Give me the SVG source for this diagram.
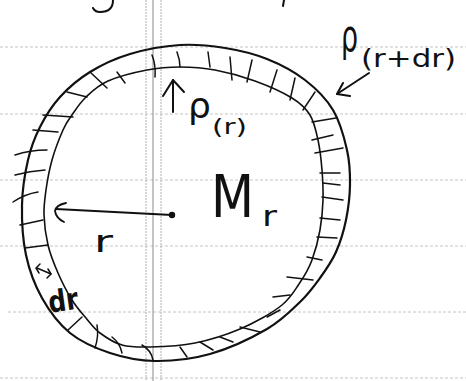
<svg xmlns="http://www.w3.org/2000/svg" width="466" height="381" viewBox="0 0 466 381">
<style>
.rule{stroke:#c4c4c4;stroke-width:1;stroke-dasharray:3 2;fill:none}
.vrule{stroke:#b0b0b0;stroke-width:1;stroke-dasharray:2 1;fill:none}
.vmid{stroke:#8a8a8a;stroke-width:1;fill:none}
.ink{stroke:#111;fill:none;stroke-linecap:round;stroke-linejoin:round}
.outer{stroke-width:2.2}
.inner{stroke-width:1.6}
.tick{stroke-width:1.5}
.hand{font-family:"DejaVu Sans","Liberation Sans",sans-serif;fill:#111}
</style>
<rect width="466" height="381" fill="#fff"/>
<g id="paper">
<line class="rule" x1="0" y1="47" x2="466" y2="47"/>
<line class="rule" x1="0" y1="114" x2="466" y2="114"/>
<line class="rule" x1="0" y1="180" x2="466" y2="180"/>
<line class="rule" x1="0" y1="246" x2="466" y2="246"/>
<line class="rule" x1="8" y1="312" x2="466" y2="312"/>
<line class="rule" x1="0" y1="378" x2="466" y2="378"/>
<line class="vrule" x1="146" y1="0" x2="146" y2="381"/>
<line class="vmid" x1="153" y1="0" x2="153" y2="381"/>
<line class="vrule" x1="161" y1="0" x2="161" y2="381"/>
</g>
<g id="scraps" class="ink" stroke-width="2">
<path d="M113,0 C113,8 108,12 100,12 C96,12 94,10 93,8"/>
<path d="M284,0 L283,6"/>
</g>
<g id="shell">
<path class="ink outer" d="M180,45 C195.8,44 210.5,45.7 225,48 C239.5,50.3 253.7,53.7 267,59 C280.3,64.3 294,71.5 305,80 C316,88.5 326,98.3 333,110 C340,121.7 344.2,137.5 347,150 C349.8,162.5 350.2,173.3 350,185 C349.8,196.7 348.3,208.8 346,220 C343.7,231.2 340.3,242.3 336,252 C331.7,261.7 326,269.7 320,278 C314,286.3 308.8,293.5 300,302 C291.2,310.5 282,320.3 267,329 C252,337.7 228.7,348.7 210,354 C191.3,359.3 171.7,361.2 155,361 C138.3,360.8 124.2,357.7 110,353 C95.8,348.3 81.3,342.2 70,333 C58.7,323.8 49.3,311 42,298 C34.7,285 29.3,270.5 26,255 C22.7,239.5 21.7,220.8 22,205 C22.3,189.2 25,173 28,160 C31,147 34.7,137.5 40,127 C45.3,116.5 51.7,106.2 60,97 C68.3,87.8 78.3,79.2 90,72 C101.7,64.8 115,58.5 130,54 C145,49.5 164.2,46 180,45 Z"/>
<path class="ink inner" d="M180,67 C191.3,67 202.5,67.7 215,70 C227.5,72.3 242.2,76.3 255,81 C267.8,85.7 282.8,92.3 292,98 C301.2,103.7 305.7,108 310,115 C314.3,122 316,130.8 318,140 C320,149.2 321.2,160 322,170 C322.8,180 323.3,190 323,200 C322.7,210 321.8,220 320,230 C318.2,240 315.3,251 312,260 C308.7,269 304.3,276.3 299,284 C293.7,291.7 291,297.5 282,305 C273,312.5 254.7,322.8 240,329 C225.3,335.2 210,340 195,343 C180,346 162.2,346.7 150,347 C137.8,347.3 130.3,347.3 122,345 C113.7,342.7 106,337.5 100,333 C94,328.5 90.7,323.5 86,318 C81.3,312.5 76.7,307.5 72,300 C67.3,292.5 62,282.2 58,273 C54,263.8 50.3,254.7 48,245 C45.7,235.3 44.3,224.2 44,215 C43.7,205.8 44.7,199.2 46,190 C47.3,180.8 49.2,170 52,160 C54.8,150 59.7,137.5 63,130 C66.3,122.5 68.2,120.5 72,115 C75.8,109.5 80,102.7 86,97 C92,91.3 97.8,85.5 108,81 C118.2,76.5 135,72.3 147,70 C159,67.7 168.7,67 180,67 Z"/>
<g class="ink tick">
<path d="M43,115 L73,117"/>
<path d="M67,92 L87,97"/>
<path d="M90,72 L107,88"/>
<path d="M117,72 L125,83"/>
<path d="M152,55 Q156,65 155,77"/>
<path d="M177,52 Q180,60 180,67"/>
<path d="M208,52 L210,67"/>
<path d="M230,57 L232,80"/>
<path d="M252,60 L247,82"/>
<path d="M277,70 L270,92"/>
<path d="M295,78 L290,100"/>
<path d="M315,92 L303,110"/>
<path d="M312,122 L336,118"/>
<path d="M33,130 L58,132"/>
<path d="M15,155 Q30,150 47,150"/>
<path d="M15,175 Q30,171 45,170"/>
<path d="M13,202 Q25,194 38,192"/>
<path d="M20,225 L43,220"/>
<path d="M25,248 L48,245"/>
<path d="M68,330 L82,317"/>
<path d="M95,348 Q99,336 97,325"/>
<path d="M112,337 Q120,343 122,353"/>
<path d="M142,345 Q151,350 153,360"/>
<path d="M180,347 L187,357"/>
<path d="M200,342 L213,350"/>
<path d="M220,337 L233,342"/>
<path d="M240,327 L260,332"/>
<path d="M267,317 L280,310"/>
<path d="M273,297 L290,295"/>
<path d="M287,277 L313,280"/>
<path d="M307,257 L322,260"/>
<path d="M312,140 L333,135"/>
<path d="M315,153 L343,148"/>
<path d="M320,173 L340,173"/>
<path d="M323,183 L340,185"/>
<path d="M322,197 L343,200"/>
<path d="M320,218 L340,220"/>
<path d="M317,237 L337,238"/>
</g>
</g>
<g id="labels">
<g id="rho-r-dr">
<text class="hand" x="341" y="51" font-size="44" textLength="17" lengthAdjust="spacingAndGlyphs">ρ</text>
<text class="hand" x="361" y="67" font-size="25" textLength="95" lengthAdjust="spacingAndGlyphs">(r+dr)</text>
<g class="ink" stroke-width="2">
<path d="M369,73 L337,94"/>
<path d="M343,83 L337,94 L350,96"/>
</g>
</g>
<g id="rho-r">
<g class="ink" stroke-width="2">
<path d="M173,112 L173,80"/>
<path d="M163,96 L173,80 L184,92"/>
</g>
<text class="hand" x="188" y="118" font-size="36">ρ</text>
<text class="hand" x="212" y="134" font-size="22" textLength="35" lengthAdjust="spacingAndGlyphs">(r)</text>
</g>
<g id="mass">
<text class="hand" x="211" y="217" font-size="58" textLength="43" lengthAdjust="spacingAndGlyphs">M</text>
<text class="hand" x="262" y="226" font-size="28" textLength="15" lengthAdjust="spacingAndGlyphs">r</text>
</g>
<g id="radius">
<g class="ink" stroke-width="1.8">
<path d="M172,215 L56,209"/>
<path d="M66,203 Q56,205 55,211 Q56,218 64,222"/>
</g>
<circle cx="172" cy="215" r="3.2" fill="#111"/>
<text class="hand" x="94" y="252" font-size="30" textLength="19" lengthAdjust="spacingAndGlyphs">r</text>
</g>
<g id="thickness">
<g class="ink" stroke-width="1.5">
<path d="M37,268 L51,274"/>
<path d="M40,264 L36,268 L39,273"/>
<path d="M48,269 L51,274 L47,278"/>
</g>
<text class="hand" x="48" y="311" font-size="30" font-weight="bold" textLength="30" lengthAdjust="spacingAndGlyphs" transform="rotate(-8 62 300)">dr</text>
</g>
</g>
</svg>
